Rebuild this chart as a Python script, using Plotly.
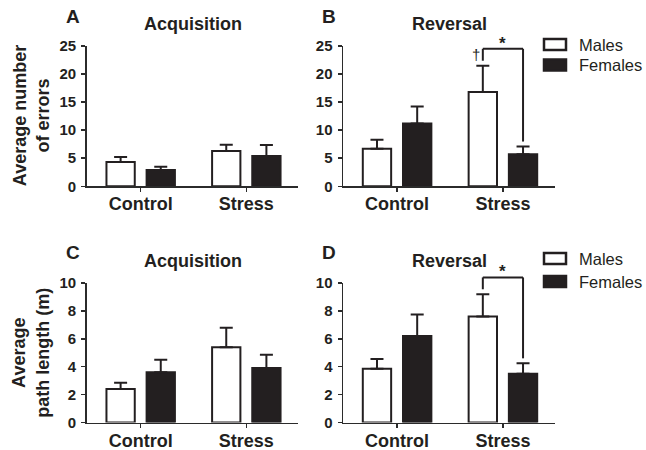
import plotly.graph_objects as go

# ---------------- data ----------------
groups = ["Control", "Stress"]

errors_acq_males = [4.35, 6.3]
errors_acq_males_sem = [0.85, 1.1]
errors_acq_females = [2.9, 5.4]
errors_acq_females_sem = [0.6, 1.95]

errors_rev_males = [6.7, 16.8]
errors_rev_males_sem = [1.6, 4.7]
errors_rev_females = [11.2, 5.7]
errors_rev_females_sem = [3.0, 1.4]

path_acq_males = [2.4, 5.4]
path_acq_males_sem = [0.45, 1.4]
path_acq_females = [3.6, 3.9]
path_acq_females_sem = [0.9, 0.95]

path_rev_males = [3.85, 7.6]
path_rev_males_sem = [0.7, 1.6]
path_rev_females = [6.2, 3.5]
path_rev_females_sem = [1.55, 0.75]

panel_letters = ["A", "B", "C", "D"]
panel_titles = ["Acquisition", "Reversal", "Acquisition", "Reversal"]
series_names = ["Males", "Females"]

# ---------------- style ----------------
W, H = 646, 450
FONT = "Arial, Liberation Sans, Helvetica, sans-serif"
INK = "#231f20"
AXC = "#2b2b2b"
BARGAP = 0.24
BARGROUPGAP = 0.295
SLOT = (1 - BARGAP) / 2
OFF = SLOT / 2  # center offset of each bar from category center


def px_x(v):
    return v / W


def px_y(v):
    return 1 - v / H


# domains in pixels
xdom_left = (86.7, 298.3)
xdom_right = (343.0, 555.0)
ydom_top = (46.0, 186.3)
ydom_bot = (283.0, 422.5)

panels = [
    dict(m=errors_acq_males, ms=errors_acq_males_sem, f=errors_acq_females, fs=errors_acq_females_sem,
         xd=xdom_left, yd=ydom_top, yr=25, dt=5),
    dict(m=errors_rev_males, ms=errors_rev_males_sem, f=errors_rev_females, fs=errors_rev_females_sem,
         xd=xdom_right, yd=ydom_top, yr=25, dt=5),
    dict(m=path_acq_males, ms=path_acq_males_sem, f=path_acq_females, fs=path_acq_females_sem,
         xd=xdom_left, yd=ydom_bot, yr=10, dt=2),
    dict(m=path_rev_males, ms=path_rev_males_sem, f=path_rev_females, fs=path_rev_females_sem,
         xd=xdom_right, yd=ydom_bot, yr=10, dt=2),
]

fig = go.Figure()
layout = dict(
    width=W, height=H, autosize=False,
    margin=dict(l=0, r=0, t=0, b=0, pad=0, autoexpand=False),
    paper_bgcolor="white", plot_bgcolor="white",
    barmode="group", bargap=BARGAP, bargroupgap=BARGROUPGAP,
    showlegend=False,
    font=dict(family=FONT, color=INK),
)
shapes = []
annotations = []

for i, p in enumerate(panels):
    n = i + 1
    xa = "x" if n == 1 else f"x{n}"
    ya = "y" if n == 1 else f"y{n}"
    for name, vals, sem, fill in [(series_names[0], p["m"], p["ms"], "white"),
                                  (series_names[1], p["f"], p["fs"], INK)]:
        fig.add_trace(go.Bar(
            x=groups, y=vals, name=name, xaxis=xa, yaxis=ya,
            marker=dict(color=fill, line=dict(color=INK, width=2)),
            error_y=dict(type="data", symmetric=False, array=sem,
                         arrayminus=[0] * len(sem), color=INK, thickness=2, width=6.5),
            showlegend=False, hoverinfo="skip",
        ))
    xkey = "xaxis" if n == 1 else f"xaxis{n}"
    ykey = "yaxis" if n == 1 else f"yaxis{n}"
    layout[xkey] = dict(
        domain=[px_x(p["xd"][0]), px_x(p["xd"][1])], anchor=ya,
        type="category", range=[-0.511, 1.492], automargin=False,
        showline=True, linecolor=AXC, linewidth=1.5,
        ticks="outside", ticklen=4, tickwidth=1.5, tickcolor=AXC,
        showgrid=False, zeroline=False,
        tickfont=dict(family=FONT, size=18, color=INK, weight="bold"),
        ticklabelstandoff=-3,
    )
    layout[ykey] = dict(
        domain=[px_y(p["yd"][1]), px_y(p["yd"][0])], anchor=xa,
        range=[0, p["yr"]], dtick=p["dt"], tick0=0, automargin=False,
        showline=True, linecolor=AXC, linewidth=1.5,
        ticks="outside", ticklen=4, tickwidth=1.5, tickcolor=AXC,
        showgrid=False, zeroline=False,
        tickfont=dict(family=FONT, size=15, color=INK, weight="bold"),
        ticklabelstandoff=2,
    )
    # panel title
    annotations.append(dict(
        text=panel_titles[i], xref="paper", yref="paper",
        x=px_x((p["xd"][0] + p["xd"][1]) / 2), y=px_y(p["yd"][0] - 22),
        xanchor="center", yanchor="middle", showarrow=False,
        font=dict(family=FONT, size=18, color=INK, weight="bold"),
    ))
    # panel letter
    annotations.append(dict(
        text=panel_letters[i], xref="paper", yref="paper",
        x=px_x(p["xd"][0] - 14), y=px_y(p["yd"][0] - 30),
        xanchor="center", yanchor="middle", showarrow=False,
        font=dict(family=FONT, size=19, color=INK, weight="bold"),
    ))

# y-axis titles
annotations.append(dict(
    text="Average number<br>of errors", xref="paper", yref="paper",
    x=px_x(31), y=px_y((ydom_top[0] + ydom_top[1]) / 2), textangle=-90,
    xanchor="center", yanchor="middle", showarrow=False,
    font=dict(family=FONT, size=18, color=INK, weight="bold"),
))
annotations.append(dict(
    text="Average<br>path length (m)", xref="paper", yref="paper",
    x=px_x(31), y=px_y((ydom_bot[0] + ydom_bot[1]) / 2), textangle=-90,
    xanchor="center", yanchor="middle", showarrow=False,
    font=dict(family=FONT, size=18, color=INK, weight="bold"),
))

# significance brackets (panels B and D, Stress group); y in axis-domain fraction
for n, p, dagger in [(2, panels[1], True), (4, panels[3], False)]:
    xa = f"x{n}"
    yd = f"y{n} domain"
    k = 1  # Stress
    xl, xr = k - OFF, k + OFF
    r = p["yr"]
    cap_m = (p["m"][k] + p["ms"][k]) / r
    cap_f = (p["f"][k] + p["fs"][k]) / r
    top = max(cap_m, cap_f) + 0.12
    lb = cap_m + 0.035
    rb = cap_f + 0.035
    line = dict(color=INK, width=2)
    shapes.append(dict(type="line", xref=xa, yref=yd, x0=xl, x1=xl, y0=lb, y1=top, line=line))
    shapes.append(dict(type="line", xref=xa, yref=yd, x0=xl, x1=xr, y0=top, y1=top, line=line))
    shapes.append(dict(type="line", xref=xa, yref=yd, x0=xr, x1=xr, y0=top, y1=rb, line=line))
    annotations.append(dict(
        text="*", xref=xa, yref=yd, x=k, y=top, yanchor="bottom", xanchor="center",
        showarrow=False, yshift=-6, font=dict(family=FONT, size=17, color=INK, weight="bold"),
    ))
    if dagger:
        annotations.append(dict(
            text="†", xref=xa, yref=yd, x=xl, y=(lb + top) / 2, xanchor="right", yanchor="middle",
            showarrow=False, xshift=-1, font=dict(family=FONT, size=15, color=INK),
        ))

# manual legends (panels B and D)
for rows in [[44.5, 65.0], [258.5, 281.5]]:
    for name, yc, fill in zip(series_names, rows, ["white", INK]):
        shapes.append(dict(
            type="rect", xref="paper", yref="paper",
            x0=px_x(544), x1=px_x(566), y0=px_y(yc + 5.5), y1=px_y(yc - 5.5),
            fillcolor=fill, line=dict(color=INK, width=2.5),
        ))
        annotations.append(dict(
            text=name, xref="paper", yref="paper", x=px_x(577), y=px_y(yc),
            xanchor="left", yanchor="middle", showarrow=False,
            font=dict(family=FONT, size=16.5, color=INK),
        ))

layout["shapes"] = shapes
layout["annotations"] = annotations
fig.update_layout(**layout)
fig.write_html(
    "out.html",
    config={"displayModeBar": False, "staticPlot": True},
    post_script="document.body.style.margin='0';document.body.style.overflow='hidden';",
)
